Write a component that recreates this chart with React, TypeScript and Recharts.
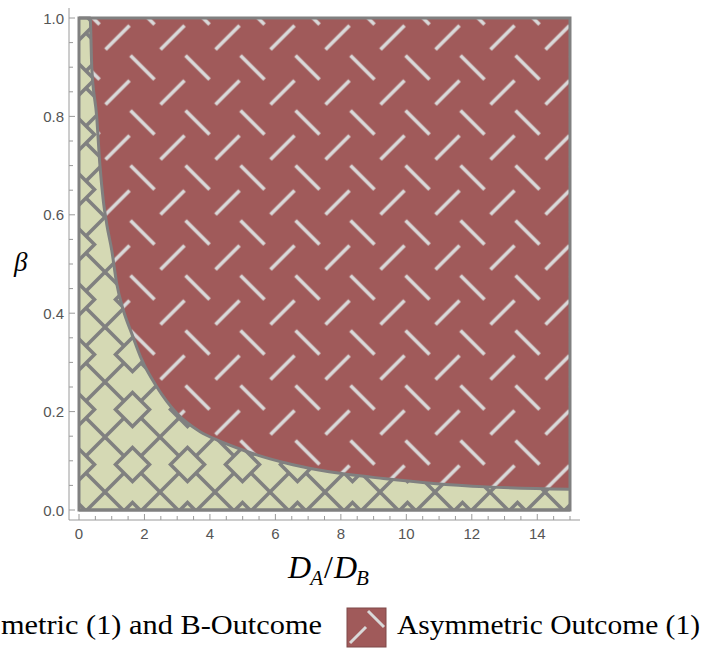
import React from 'react';
import { ComposedChart, Area, XAxis, YAxis, ReferenceArea, Label } from 'recharts';

// ---- data ----
const ratioValues = [0, 0.34, 0.39, 0.54, 0.64, 0.74, 0.85, 1.0, 1.15, 1.35, 1.61, 1.92, 2.37, 2.98, 3.7, 4.3, 5.0, 5.43, 6.35, 6.75, 7.97, 9.3, 10.83, 12.46, 15];
const betaBoundary = [1, 1, 0.9, 0.8, 0.7, 0.63, 0.58, 0.528, 0.461, 0.407, 0.359, 0.305, 0.251, 0.197, 0.159, 0.14, 0.122, 0.112, 0.095, 0.089, 0.0745, 0.064, 0.054, 0.047, 0.042];

const xTicks = [0, 0.5, 1, 1.5, 2, 2.5, 3, 3.5, 4, 4.5, 5, 5.5, 6, 6.5, 7, 7.5, 8, 8.5, 9, 9.5, 10, 10.5, 11, 11.5, 12, 12.5, 13, 13.5, 14, 14.5, 15];
const xTickLabels = [0, 2, 4, 6, 8, 10, 12, 14];
const yTicks = [0, 0.05, 0.1, 0.15, 0.2, 0.25, 0.3, 0.35, 0.4, 0.45, 0.5, 0.55, 0.6, 0.65, 0.7, 0.75, 0.8, 0.85, 0.9, 0.95, 1];
const yTickLabels = [0, 0.2, 0.4, 0.6, 0.8, 1];

const seriesNamesHead = ['Asym', ''];
const seriesNamesTail = ['metric (1) and B-Outcome', 'Asymmetric Outcome (1)'];
const yAxisTitle = 'β';

const chartData = ratioValues.map((x, i) => ({
  x,
  lower: [0, betaBoundary[i]],
  upper: [betaBoundary[i], 1],
}));

// ---- styles ----
const RED = '#A05A5A';
const GREEN = '#D5D9B4';
const GRAY = '#808080';
const DASH = '#D9D9D9';
const AXIS = '#9A9A9A';
const TICKTEXT = '#555555';
const SANS = '"Liberation Sans", Arial, sans-serif';
const SERIF = '"Liberation Serif", "Times New Roman", serif';

const isIn = (arr: number[], v: number) => arr.some((a) => Math.abs(a - v) < 1e-9);

const LeftTick = (props: any) => {
  const { x, y, payload } = props;
  const v = payload.value;
  const major = isIn(yTickLabels, v);
  return (
    <g>
      <line x1={x} x2={x + (major ? 6 : 4)} y1={y} y2={y} stroke={AXIS} strokeWidth={1} />
      {major && (
        <text x={x - 5} y={y + 5.5} textAnchor="end" fill={TICKTEXT} fontSize={15} fontFamily={SANS}>
          {v.toFixed(1)}
        </text>
      )}
    </g>
  );
};

const RightTick = (props: any) => {
  const { x, y, payload } = props;
  const major = isIn(yTickLabels, payload.value);
  return <line x1={x} x2={x - (major ? 6 : 4)} y1={y} y2={y} stroke={AXIS} strokeWidth={1} />;
};

const BottomTick = (props: any) => {
  const { x, y, payload } = props;
  const v = payload.value;
  const major = isIn(xTickLabels, v);
  return (
    <g>
      <line x1={x} x2={x} y1={y} y2={y - (major ? 6 : 4)} stroke={AXIS} strokeWidth={1} />
      {major && (
        <text x={x} y={y + 19} textAnchor="middle" fill={TICKTEXT} fontSize={15} fontFamily={SANS}>
          {String(v)}
        </text>
      )}
    </g>
  );
};

const TopTick = (props: any) => {
  const { x, y, payload } = props;
  const major = isIn(xTickLabels, payload.value);
  return <line x1={x} x2={x} y1={y} y2={y + (major ? 6 : 4)} stroke={AXIS} strokeWidth={1} />;
};

const XTitle = (props: any) => {
  const vb = props.viewBox || { x: 69, y: 520, width: 511, height: 30 };
  const cx = vb.x + vb.width / 2 + 4;
  const by = vb.y + 58;
  return (
    <text x={cx} y={by} textAnchor="middle" fontFamily={SERIF} fontSize={32} fill="#000" fontStyle="italic">
      <tspan>D</tspan>
      <tspan fontSize={21} dy={7} dx={-1}>A</tspan>
      <tspan dy={-7} dx={1} fontStyle="normal">/</tspan>
      <tspan dx={1}>D</tspan>
      <tspan fontSize={21} dy={7} dx={-1}>B</tspan>
    </text>
  );
};

const YTitle = (props: any) => {
  const vb = props.viewBox || { x: 0, y: 8, width: 69, height: 512 };
  return (
    <text x={vb.x + 14} y={vb.y + 263} fontFamily={SERIF} fontSize={27} fontStyle="italic" fill="#000">
      {yAxisTitle}
    </text>
  );
};

const Legend = () => (
  <svg width={705} height={648} style={{ position: 'absolute', left: 0, top: 0, pointerEvents: 'none' }}>
    <text y={634} fontFamily={SERIF} fontSize={27} fill="#000">
      <tspan x={-1} textAnchor="end">{seriesNamesHead[0]}</tspan>
      <tspan x={1} textLength={321} lengthAdjust="spacingAndGlyphs">{seriesNamesTail[0]}</tspan>
    </text>
    <rect x={347} y={608} width={39} height={39} fill={RED} stroke="#7E4848" strokeWidth={1} />
    <line x1={368} y1={611} x2={384} y2={627} stroke={DASH} strokeWidth={3} />
    <line x1={350} y1={643} x2={366} y2={627} stroke={DASH} strokeWidth={3} />
    <text x={397} y={634} fontFamily={SERIF} fontSize={27} fill="#000" textLength={303} lengthAdjust="spacingAndGlyphs">
      {seriesNamesHead[1] + seriesNamesTail[1]}
    </text>
  </svg>
);

export default function App() {
  return (
    <div style={{ position: 'absolute', left: 0, top: 0, width: 705, height: 648, background: '#fff' }}>
      <ComposedChart width={705} height={648} data={chartData} margin={{ top: 8, right: 125, left: 0, bottom: 98 }}>
        <defs>
          <pattern id="redPat" patternUnits="userSpaceOnUse" width={55} height={55} x={18.75} y={-1.25}>
            <rect x={0} y={0} width={55} height={55} fill={RED} />
            <line x1={1.75} y1={1.75} x2={25.75} y2={25.75} stroke={DASH} strokeWidth={3.5} />
            <line x1={31.75} y1={50.75} x2={55.75} y2={26.75} stroke={DASH} strokeWidth={3.5} />
            <line x1={-23.25} y1={50.75} x2={0.75} y2={26.75} stroke={DASH} strokeWidth={3.5} />
          </pattern>
          <pattern id="greenPat" patternUnits="userSpaceOnUse" width={55} height={55} x={50} y={52}>
            <rect x={0} y={0} width={55} height={55} fill={GREEN} />
            <polygon points="10.5,27.5 27.5,10.5 44.5,27.5 27.5,44.5" fill="none" stroke={GRAY} strokeWidth={3.5} />
            <line x1={-5} y1={-5} x2={19} y2={19} stroke={GRAY} strokeWidth={3.5} />
            <line x1={60} y1={-5} x2={36} y2={19} stroke={GRAY} strokeWidth={3.5} />
            <line x1={-5} y1={60} x2={19} y2={36} stroke={GRAY} strokeWidth={3.5} />
            <line x1={60} y1={60} x2={36} y2={36} stroke={GRAY} strokeWidth={3.5} />
          </pattern>
        </defs>
        <XAxis
          type="number"
          dataKey="x"
          domain={[0, 15]}
          ticks={xTicks}
          interval={0}
          padding={{ left: 10, right: 10 }}
          height={30}
          tickSize={0}
          tickMargin={0}
          tickLine={false}
          axisLine={{ stroke: AXIS, strokeWidth: 1 }}
          tick={<BottomTick />}
        >
          <Label content={<XTitle />} />
        </XAxis>
        <XAxis
          xAxisId="top"
          orientation="top"
          type="number"
          dataKey="x"
          domain={[0, 15]}
          ticks={xTicks}
          interval={0}
          padding={{ left: 10, right: 10 }}
          height={0}
          tickSize={0}
          tickMargin={0}
          tickLine={false}
          axisLine={{ stroke: AXIS, strokeWidth: 1 }}
          tick={<TopTick />}
        />
        <YAxis
          type="number"
          domain={[0, 1]}
          ticks={yTicks}
          interval={0}
          padding={{ top: 10, bottom: 10 }}
          width={69}
          tickSize={0}
          tickMargin={0}
          tickLine={false}
          axisLine={{ stroke: AXIS, strokeWidth: 1 }}
          tick={<LeftTick />}
        >
          <Label content={<YTitle />} />
        </YAxis>
        <YAxis
          yAxisId="right"
          orientation="right"
          type="number"
          domain={[0, 1]}
          ticks={yTicks}
          interval={0}
          padding={{ top: 10, bottom: 10 }}
          width={0}
          tickSize={0}
          tickMargin={0}
          tickLine={false}
          axisLine={{ stroke: AXIS, strokeWidth: 1 }}
          tick={<RightTick />}
        />
        <Area
          type="monotone"
          dataKey="upper"
          fill="url(#redPat)"
          fillOpacity={1}
          stroke="none"
          isAnimationActive={false}
          dot={false}
          activeDot={false}
        />
        <Area
          type="monotone"
          dataKey="lower"
          fill="url(#greenPat)"
          fillOpacity={1}
          stroke={GRAY}
          strokeWidth={3}
          isAnimationActive={false}
          dot={false}
          activeDot={false}
        />
        <ReferenceArea x1={0} x2={15} y1={0} y2={1} fill="none" fillOpacity={0} stroke={GRAY} strokeWidth={3} strokeOpacity={1} />
      </ComposedChart>
      <Legend />
    </div>
  );
}
